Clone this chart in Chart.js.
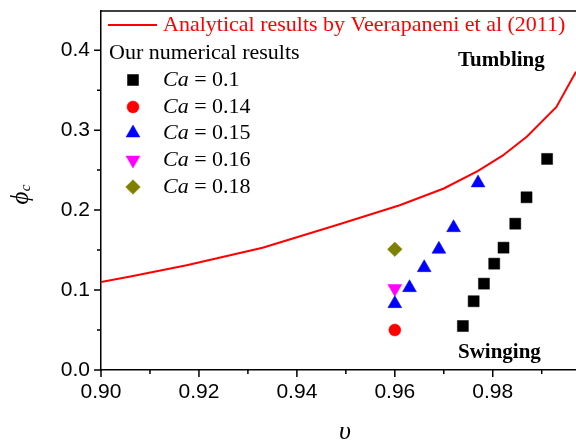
<!DOCTYPE html>
<html>
<head>
<meta charset="utf-8">
<script src="https://cdn.jsdelivr.net/npm/chart.js@4/dist/chart.umd.min.js"></script>
<style>
  html, body { margin: 0; padding: 0; background: #ffffff; }
  #wrap { width: 576px; height: 444px; }
</style>
</head>
<body>
<div id="wrap"><canvas id="chart" width="576" height="444"></canvas></div>
<script>
// Analytical boundary (Veerapaneni et al 2011)
const analyticNu  = [0.900, 0.906, 0.9175, 0.933, 0.948, 0.961, 0.970, 0.977, 0.982, 0.987, 0.993, 0.997];
const analyticPhi = [0.110, 0.117, 0.131, 0.153, 0.181, 0.206, 0.227, 0.249, 0.268, 0.292, 0.329, 0.373];

// Numerical critical angles for each capillary number
const ca010Nu  = [0.9739, 0.9761, 0.9782, 0.9803, 0.9822, 0.9846, 0.9869, 0.9911];
const ca010Phi = [0.055, 0.086, 0.108, 0.133, 0.153, 0.183, 0.216, 0.264];
const ca014Nu  = [0.960];
const ca014Phi = [0.050];
const ca015Nu  = [0.960, 0.963, 0.966, 0.969, 0.972, 0.977];
const ca015Phi = [0.083, 0.103, 0.128, 0.151, 0.178, 0.234];
const ca016Nu  = [0.960];
const ca016Phi = [0.102];
const ca018Nu  = [0.960];
const ca018Phi = [0.151];

const caLabels = ['0.1', '0.14', '0.15', '0.16', '0.18'];

// Axis ticks
const xMajor = [0.90, 0.92, 0.94, 0.96, 0.98];
const xMinor = [0.91, 0.93, 0.95, 0.97, 0.99];
const yMajor = [0.0, 0.1, 0.2, 0.3, 0.4];
const yMinor = [0.05, 0.15, 0.25, 0.35];

const pts = (xs, ys) => xs.map((x, i) => ({ x: x, y: ys[i] }));

const SERIF = '"Liberation Serif", "Times New Roman", serif';
const SANS = '"Liberation Sans", Arial, sans-serif';

const markerSets = [
  { label: caLabels[0], data: pts(ca010Nu, ca010Phi), pointStyle: 'rect', color: '#000000', radius: 7.8, rotation: 0 },
  { label: caLabels[1], data: pts(ca014Nu, ca014Phi), pointStyle: 'circle', color: '#ff0000', radius: 6, rotation: 0 },
  { label: caLabels[2], data: pts(ca015Nu, ca015Phi), pointStyle: 'triangle', color: '#0000ff', radius: 8, rotation: 0 },
  { label: caLabels[3], data: pts(ca016Nu, ca016Phi), pointStyle: 'triangle', color: '#ff00ff', radius: 8, rotation: 180 },
  { label: caLabels[4], data: pts(ca018Nu, ca018Phi), pointStyle: 'rectRot', color: '#808000', radius: 7.3, rotation: 0 }
];

const datasets = [{
  label: 'Analytical results by Veerapaneni et al (2011)',
  data: pts(analyticNu, analyticPhi),
  showLine: true,
  borderColor: '#ff0000',
  borderWidth: 2,
  pointRadius: 0,
  pointHoverRadius: 0,
  tension: 0,
  fill: false
}].concat(markerSets.map(m => ({
  label: 'Ca = ' + m.label,
  data: m.data,
  showLine: false,
  pointStyle: m.pointStyle,
  pointRadius: m.radius,
  pointRotation: m.rotation,
  backgroundColor: m.color,
  borderColor: m.color,
  borderWidth: 0.5
})));

function drawMarker(ctx, style, radius, rotation, color, x, y) {
  const opts = { pointStyle: style, radius: radius, rotation: rotation, borderWidth: 0.5 };
  ctx.save();
  ctx.fillStyle = color;
  ctx.strokeStyle = color;
  ctx.lineWidth = 0.5;
  Chart.helpers.drawPoint(ctx, opts, x, y);
  ctx.restore();
}

// Fixed axis box sizes with no extra label padding
function fixBox(size, isX) {
  return s => {
    if (isX) { s.height = size; } else { s.width = size; }
    s.paddingTop = 0; s.paddingBottom = 0; s.paddingLeft = 0; s.paddingRight = 0;
  };
}

// Let the plot run right up to the canvas edge
const fullRight = {
  id: 'fullRight',
  afterLayout(chart) {
    const a = chart.chartArea;
    const xs = chart.scales.x;
    a.right = chart.width;
    a.width = a.right - a.left;
    xs.right = chart.width;
    xs.width = xs.right - xs.left;
    xs.configure();
  }
};

// Minor/major tick marks, top frame line, axis titles, annotations and legend
const decorations = {
  id: 'decorations',
  afterDraw(chart) {
    const ctx = chart.ctx;
    const a = chart.chartArea;
    const xs = chart.scales.x, ys = chart.scales.y;
    ctx.save();
    ctx.strokeStyle = '#000000';
    ctx.lineWidth = 1.5;
    ctx.beginPath();
    xMajor.forEach(v => { const p = xs.getPixelForValue(v); ctx.moveTo(p, a.bottom); ctx.lineTo(p, a.bottom + 7); });
    xMinor.forEach(v => { const p = xs.getPixelForValue(v); ctx.moveTo(p, a.bottom); ctx.lineTo(p, a.bottom + 4); });
    yMajor.forEach(v => { const p = ys.getPixelForValue(v); ctx.moveTo(a.left, p); ctx.lineTo(a.left - 7, p); });
    yMinor.forEach(v => { const p = ys.getPixelForValue(v); ctx.moveTo(a.left, p); ctx.lineTo(a.left - 4, p); });
    ctx.stroke();
    // top frame
    ctx.beginPath();
    ctx.moveTo(a.left - 0.75, a.top);
    ctx.lineTo(a.right, a.top);
    ctx.stroke();

    // axis titles
    ctx.fillStyle = '#000000';
    ctx.textAlign = 'center';
    ctx.textBaseline = 'middle';
    ctx.font = 'italic 26px ' + SERIF;
    ctx.fillText('\u03C5', 345, 432);

    ctx.save();
    ctx.translate(21, 198);
    ctx.rotate(-Math.PI / 2);
    ctx.font = 'italic 25px ' + SERIF;
    ctx.fillText('\u03D5', 0, 0);
    ctx.font = 'italic 15px ' + SERIF;
    ctx.fillText('c', 10, 5);
    ctx.restore();

    // regime labels
    ctx.font = 'bold 21px ' + SERIF;
    ctx.textAlign = 'left';
    ctx.fillText('Tumbling', 458, 61);
    ctx.fillText('Swinging', 458, 353);

    // legend
    ctx.strokeStyle = '#ff0000';
    ctx.lineWidth = 2;
    ctx.beginPath();
    ctx.moveTo(108, 25);
    ctx.lineTo(157, 25);
    ctx.stroke();
    ctx.font = '22px ' + SERIF;
    ctx.fillStyle = '#ff0000';
    ctx.fillText(datasets[0].label, 163, 25);
    ctx.fillStyle = '#000000';
    ctx.fillText('Our numerical results', 109, 53);

    const rowY = [80, 107, 133, 160, 187];
    markerSets.forEach((m, i) => {
      const y = rowY[i];
      drawMarker(ctx, m.pointStyle, m.radius, m.rotation, m.color, 133, y);
      ctx.fillStyle = '#000000';
      ctx.font = 'italic 22px ' + SERIF;
      ctx.fillText('Ca', 163, y);
      const w = ctx.measureText('Ca').width;
      ctx.font = '22px ' + SERIF;
      ctx.fillText(' = ' + m.label, 163 + w, y);
    });
    ctx.restore();
  }
};

new Chart(document.getElementById('chart'), {
  type: 'scatter',
  data: { datasets: datasets },
  options: {
    responsive: false,
    animation: false,
    devicePixelRatio: 1,
    layout: { padding: { top: 11, right: 0, left: 0, bottom: 0 } },
    plugins: {
      legend: { display: false },
      tooltip: { enabled: false },
      title: { display: false }
    },
    scales: {
      x: {
        type: 'linear',
        min: 0.90,
        max: 0.997,
        afterBuildTicks: s => { s.ticks = xMajor.map(v => ({ value: v })); },
        afterFit: fixBox(74, true),
        grid: { display: true, drawOnChartArea: false, drawTicks: true, tickLength: 7, tickColor: 'rgba(0,0,0,0)' },
        border: { display: true, color: '#000000', width: 1.5 },
        ticks: {
          color: '#000000',
          font: { family: SANS, size: 21 },
          padding: 3,
          maxRotation: 0,
          autoSkip: false,
          callback: v => v.toFixed(2)
        }
      },
      y: {
        type: 'linear',
        min: 0,
        max: 0.449,
        afterBuildTicks: s => { s.ticks = yMajor.map(v => ({ value: v })); },
        afterFit: fixBox(101, false),
        grid: { display: true, drawOnChartArea: false, drawTicks: true, tickLength: 7, tickColor: 'rgba(0,0,0,0)' },
        border: { display: true, color: '#000000', width: 1.5 },
        ticks: {
          color: '#000000',
          font: { family: SANS, size: 21 },
          padding: 4,
          autoSkip: false,
          callback: v => v.toFixed(1)
        }
      }
    }
  },
  plugins: [fullRight, decorations]
});
</script>
</body>
</html>
